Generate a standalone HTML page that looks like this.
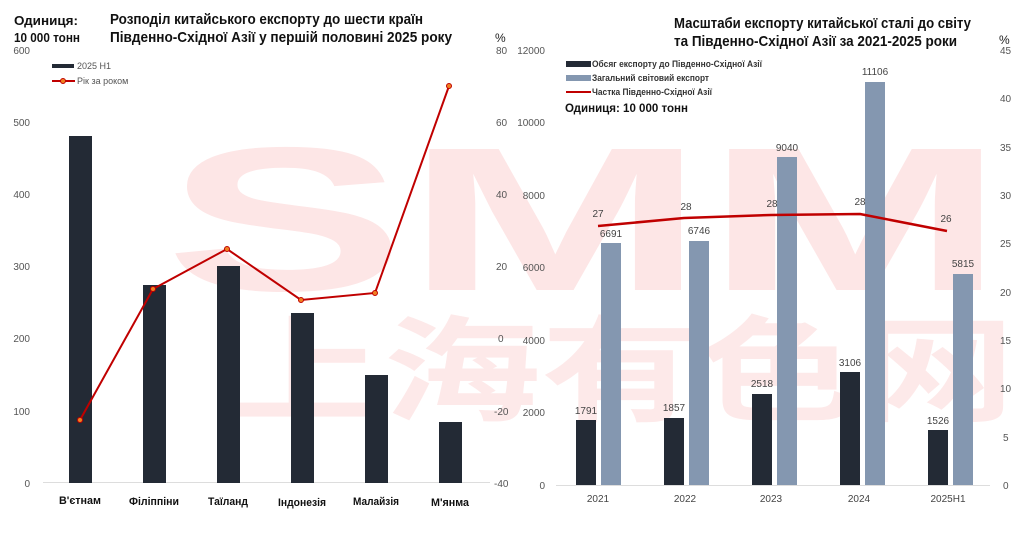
<!DOCTYPE html>
<html><head><meta charset="utf-8"><style>
body{margin:0;background:#fff;}
svg{display:block;font-family:"Liberation Sans","Noto Sans CJK SC",sans-serif;}
</style></head><body>
<svg width="1024" height="534" viewBox="0 0 1024 534" xmlns="http://www.w3.org/2000/svg">
<rect width="1024" height="534" fill="#fff"/>
<!-- watermark -->
<text x="165" y="290" font-size="205" font-weight="bold" fill="#fde6e6" textLength="840" lengthAdjust="spacingAndGlyphs">SMM</text>
<text x="225" y="412" font-size="115" font-weight="bold" fill="#fde9e9" font-family="Noto Sans CJK SC,sans-serif" textLength="790" lengthAdjust="spacingAndGlyphs">上海有色网</text>

<!-- LEFT CHART -->
<g font-size="13" font-weight="bold" fill="#111">
<text x="14" y="25" textLength="64" lengthAdjust="spacingAndGlyphs">Одиниця:</text>
<text x="14" y="42" textLength="66" lengthAdjust="spacingAndGlyphs">10 000 тонн</text>
</g>
<g font-size="15" font-weight="bold" fill="#111">
<text x="110" y="24" textLength="313" lengthAdjust="spacingAndGlyphs">Розподіл китайського експорту до шести країн</text>
<text x="110" y="42" textLength="342" lengthAdjust="spacingAndGlyphs">Південно-Східної Азії у першій половині 2025 року</text>
</g>
<text x="495" y="42" font-size="12" fill="#222">%</text>
<g font-size="10" fill="#555" text-anchor="end">
<text x="30" y="54">600</text><text x="30" y="126">500</text><text x="30" y="198">400</text>
<text x="30" y="270">300</text><text x="30" y="342">200</text><text x="30" y="415">100</text><text x="30" y="487">0</text>
</g>
<g font-size="10" fill="#555">
<text x="496" y="54">80</text><text x="496" y="126">60</text><text x="496" y="198">40</text>
<text x="496" y="270">20</text><text x="498" y="342">0</text><text x="494" y="415">-20</text><text x="494" y="487">-40</text>
</g>
<line x1="43" y1="482.5" x2="490" y2="482.5" stroke="#ddd"/>
<g fill="#232a35">
<rect x="69" y="136" width="23" height="347"/>
<rect x="143" y="285" width="23" height="198"/>
<rect x="217" y="266" width="23" height="217"/>
<rect x="291" y="313" width="23" height="170"/>
<rect x="365" y="375" width="23" height="108"/>
<rect x="439" y="422" width="23" height="61"/>
</g>
<polyline points="80,420 153,289 227,249 301,300 375,293 449,86" fill="none" stroke="#c00000" stroke-width="2"/>
<g fill="#f08020" stroke="#c00000" stroke-width="1">
<circle cx="80" cy="420" r="2.5"/><circle cx="153" cy="289" r="2.5"/><circle cx="227" cy="249" r="2.5"/>
<circle cx="301" cy="300" r="2.5"/><circle cx="375" cy="293" r="2.5"/><circle cx="449" cy="86" r="2.5"/>
</g>
<rect x="52" y="64" width="22" height="4" fill="#232a35"/>
<text x="77" y="69" font-size="9" fill="#555">2025 H1</text>
<line x1="52" y1="81" x2="75" y2="81" stroke="#c00000" stroke-width="2"/>
<circle cx="63" cy="81" r="2.5" fill="#f08020" stroke="#c00000"/>
<text x="77" y="84" font-size="9" fill="#555">Рік за роком</text>
<g font-size="11" font-weight="bold" fill="#111" text-anchor="middle">
<text x="80" y="504" textLength="42" lengthAdjust="spacingAndGlyphs">В'єтнам</text>
<text x="154" y="505" textLength="50" lengthAdjust="spacingAndGlyphs">Філіппіни</text>
<text x="228" y="505" textLength="40" lengthAdjust="spacingAndGlyphs">Таїланд</text>
<text x="302" y="506" textLength="48" lengthAdjust="spacingAndGlyphs">Індонезія</text>
<text x="376" y="505" textLength="46" lengthAdjust="spacingAndGlyphs">Малайзія</text>
<text x="450" y="506" textLength="38" lengthAdjust="spacingAndGlyphs">М'янма</text>
</g>

<!-- RIGHT CHART -->
<g font-size="15" font-weight="bold" fill="#111">
<text x="674" y="28" textLength="297" lengthAdjust="spacingAndGlyphs">Масштаби експорту китайської сталі до світу</text>
<text x="674" y="46" textLength="283" lengthAdjust="spacingAndGlyphs">та Південно-Східної Азії за 2021-2025 роки</text>
</g>
<text x="999" y="44" font-size="12" fill="#222">%</text>
<g font-size="10" fill="#555" text-anchor="end">
<text x="545" y="54">12000</text><text x="545" y="126">10000</text><text x="545" y="199">8000</text>
<text x="545" y="271">6000</text><text x="545" y="344">4000</text><text x="545" y="416">2000</text><text x="545" y="489">0</text>
</g>
<g font-size="10" fill="#555">
<text x="1000" y="54">45</text><text x="1000" y="102">40</text><text x="1000" y="151">35</text>
<text x="1000" y="199">30</text><text x="1000" y="247">25</text><text x="1000" y="296">20</text>
<text x="1000" y="344">15</text><text x="1000" y="392">10</text><text x="1003" y="441">5</text><text x="1003" y="489">0</text>
</g>
<line x1="556" y1="485.5" x2="990" y2="485.5" stroke="#ddd"/>
<g fill="#232a35">
<rect x="576" y="420" width="20" height="65"/>
<rect x="664" y="418" width="20" height="67"/>
<rect x="752" y="394" width="20" height="91"/>
<rect x="840" y="372" width="20" height="113"/>
<rect x="928" y="430" width="20" height="55"/>
</g>
<g fill="#8497b0">
<rect x="601" y="243" width="20" height="242"/>
<rect x="689" y="241" width="20" height="244"/>
<rect x="777" y="157" width="20" height="328"/>
<rect x="865" y="82" width="20" height="403"/>
<rect x="953" y="274" width="20" height="211"/>
</g>
<g font-size="10" fill="#444" text-anchor="middle">
<text x="586" y="414">1791</text><text x="674" y="411">1857</text><text x="762" y="387">2518</text>
<text x="850" y="366">3106</text><text x="938" y="424">1526</text>
<text x="611" y="237">6691</text><text x="699" y="234">6746</text><text x="787" y="151">9040</text>
<text x="875" y="75">11106</text><text x="963" y="267">5815</text>
<text x="598" y="217">27</text><text x="686" y="210">28</text><text x="772" y="207">28</text>
<text x="860" y="205">28</text><text x="946" y="222">26</text>
</g>
<polyline points="598,226 684,218 771,215 860,214 947,231" fill="none" stroke="#c00000" stroke-width="2.5" stroke-linejoin="round"/>
<rect x="566" y="61" width="25" height="6" fill="#232a35"/>
<text x="592" y="67" font-size="9" font-weight="bold" fill="#333" textLength="170" lengthAdjust="spacingAndGlyphs">Обсяг експорту до Південно-Східної Азії</text>
<rect x="566" y="75" width="25" height="6" fill="#8497b0"/>
<text x="592" y="81" font-size="9" font-weight="bold" fill="#333" textLength="117" lengthAdjust="spacingAndGlyphs">Загальний світовий експорт</text>
<line x1="566" y1="92" x2="591" y2="92" stroke="#c00000" stroke-width="2"/>
<text x="592" y="95" font-size="9" font-weight="bold" fill="#333" textLength="120" lengthAdjust="spacingAndGlyphs">Частка Південно-Східної Азії</text>
<text x="565" y="112" font-size="12" font-weight="bold" fill="#111" textLength="123" lengthAdjust="spacingAndGlyphs">Одиниця: 10 000 тонн</text>
<g font-size="10" fill="#444" text-anchor="middle">
<text x="598" y="502">2021</text><text x="685" y="502">2022</text><text x="771" y="502">2023</text>
<text x="859" y="502">2024</text><text x="948" y="502">2025H1</text>
</g>
</svg>
</body></html>
